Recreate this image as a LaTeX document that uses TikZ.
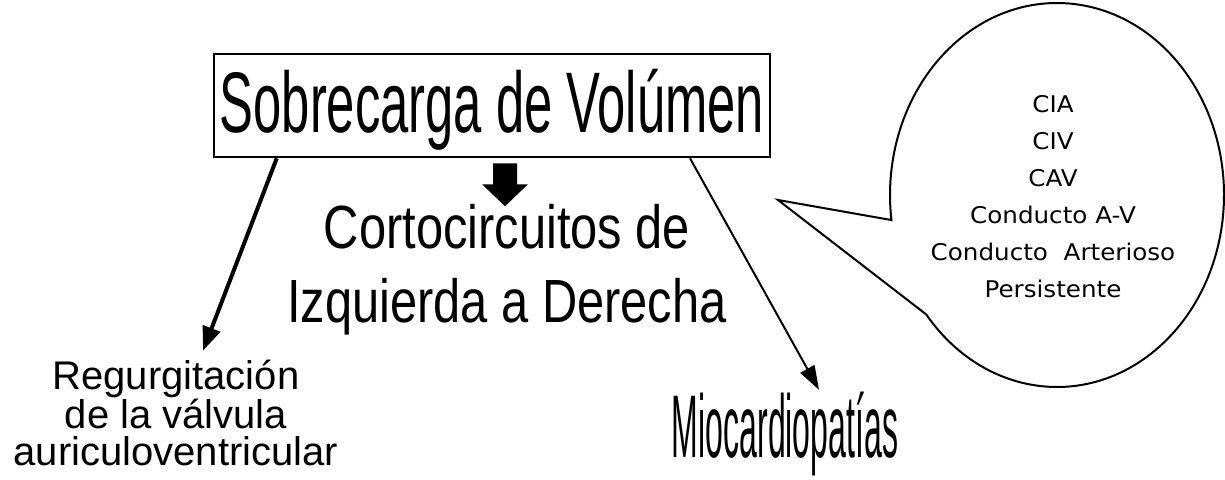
\documentclass[tikz,border=0pt]{standalone}
\usepackage{fontspec}
\setmainfont{Liberation Sans}
\newfontfamily\titlefont[FakeStretch=0.59]{Liberation Sans}
\newfontfamily\midfont[FakeStretch=0.8]{Liberation Sans}
\newfontfamily\miofont[FakeStretch=0.36]{Liberation Sans}
\newfontfamily\balloonfont[FakeStretch=1.07]{DejaVu Sans}
\usetikzlibrary{arrows.meta}

\begin{document}
\begin{tikzpicture}[x=1pt,y=-1pt,
  titlebox/.style={draw,line width=2.5pt,inner sep=0pt,minimum width=556pt,minimum height=103pt,text height=62pt,text depth=9pt},
  thickarrow/.style={line width=4pt,-{Triangle[length=24pt,width=18pt]}},
  thinarrow/.style={line width=2pt,-{Triangle[length=24pt,width=16pt]}},
  balloon/.style={line width=2pt,line join=miter}]
            \useasboundingbox (0,0) rectangle (1225,479);

            \node[titlebox,font={\titlefont\fontsize{86}{90}\selectfont}] (sobre) at (492,105.5) {Sobrecarga de Volúmen};
            \node[align=center,inner sep=0pt,font={\midfont\fontsize{61}{74}\selectfont}] (corto) at (507,269.5) {Cortocircuitos de\\Izquierda a Derecha};
            \node[align=center,inner sep=0pt,font={\fontsize{40}{37.5}\selectfont}] (regur) at (176,413) {Regurgitación\\de la válvula\\auriculoventricular};
            \node[anchor=base,inner sep=0pt,text height=64pt,text depth=18pt,font={\miofont\fontsize{89}{90}\selectfont}] (mio) at (785,457) {Miocardiopatías};

            % bocadillo
            \coordinate (bc) at (1057,195);
            \node[align=center,inner sep=0pt,font={\balloonfont\fontsize{23}{37}\selectfont}] (lista) at (1053,197) {CIA\\CIV\\CAV\\Conducto A-V\\Conducto\ \ Arterioso\\Persistente};
            \draw[balloon] ([shift={(141.5:167 and 192)}]bc) arc[start angle=141.5,end angle=-187.5,x radius=167,y radius=192] -- ([shift={(-279,5)}]bc) -- cycle;

            \fill ([xshift=1pt,yshift=-5pt]sobre.south) -- ++(24,0) -- ++(0,21) -- ++(11,0) -- ++(-23,22) -- ++(-23,-22) -- ++(11,0) -- cycle;
            \draw[thickarrow] ([xshift=64pt]sobre.south west) -- ([xshift=27pt,yshift=9pt]regur.north);
            \draw[thinarrow] ([xshift=198pt]sobre.south) -- ([xshift=34pt,yshift=3pt]mio.north);
        \end{tikzpicture}
\end{document}
